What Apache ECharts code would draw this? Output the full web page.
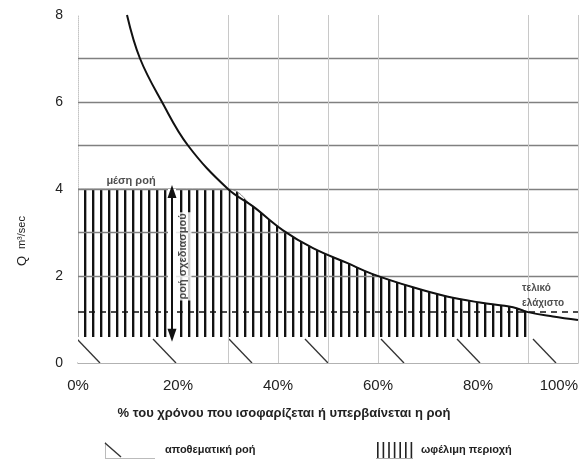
<!DOCTYPE html>
<html><head><meta charset="utf-8">
<script src="https://cdn.jsdelivr.net/npm/echarts@6/dist/echarts.min.js"></script>
<style>html,body{margin:0;padding:0;background:#fff}#c{width:583px;height:463px}</style>
</head><body><div id="c"></div>
<script>
// ---- data ----
const xTickStep = 20;                 // % ticks 0..100
const yTickStep = 2;                  // Q ticks 0..8
const curveX = [9.8, 12.4, 16.8, 22, 30, 35, 41, 47, 53.8, 58.8, 67, 73.8, 80.4, 87, 90, 95, 100];
const curveQ = [8.0, 7.0, 6.0, 5.0, 4.0, 3.6, 3.05, 2.64, 2.3, 2.05, 1.74, 1.53, 1.39, 1.28, 1.17, 1.07, 0.99];
const meanFlow = 4;                   // μέση ροή
const reserveFlow = 0.6;              // αποθεματική ροή
const dashedFlow = 1.17;              // dashed level
const usefulEnd = 90;                 // end of ωφέλιμη περιοχή (%)
const arrowAt = 18.8;                 // x of "ροή σχεδιασμού" arrow (%)
const hGridValues = [2, 3, 4, 5, 6, 7];
const vGridValues = [30, 40, 50, 60, 90, 100];
const seriesNames = ['αποθεματική ροή', 'ωφέλιμη περιοχή'];

// ---- derived ----
const curveData = curveX.map((x, i) => [x, curveQ[i]]);
const usefulTop = [[0, meanFlow]].concat(
  curveData.filter(p => p[0] >= 30 && p[0] <= usefulEnd)
);

// ---- patterns ----
function mk(w, h, draw) { const c = document.createElement('canvas'); c.width = w; c.height = h; const g = c.getContext('2d'); draw(g); return c; }
const stripes = mk(8, 8, g => { g.fillStyle = '#fff'; g.fillRect(0, 0, 8, 8); g.fillStyle = '#111'; g.fillRect(4, 0, 2, 8); g.fillStyle = '#aaa'; g.fillRect(6, 0, 1, 8); });
const diag = mk(76, 463, g => { g.fillStyle = '#fff'; g.fillRect(0, 0, 76, 463); g.strokeStyle = '#333'; g.lineWidth = 1.3; g.beginPath(); g.moveTo(1, 339); g.lineTo(24, 363); g.stroke(); });
const icon1 = mk(57, 18, g => { g.strokeStyle = '#bbb'; g.lineWidth = 1; g.beginPath(); g.moveTo(2.5, 1); g.lineTo(2.5, 17); g.moveTo(2, 17.5); g.lineTo(52, 17.5); g.stroke(); g.strokeStyle = '#333'; g.lineWidth = 1.4; g.beginPath(); g.moveTo(2, 2); g.lineTo(18, 16); g.stroke(); }).toDataURL();
const icon2 = mk(41, 18, g => { g.fillStyle = '#222'; for (let i = 0; i < 7; i++) g.fillRect(2 + i * 5.6, 1, 1.6, 16); g.fillStyle = '#aaa'; g.fillRect(1, 17, 37, 1); }).toDataURL();

const FF = 'Liberation Sans, Arial, sans-serif';
const chart = echarts.init(document.getElementById('c'), null, { renderer: 'canvas' });
chart.setOption({
  animation: false,
  backgroundColor: '#fff',
  grid: { left: 78, right: 5, top: 15, bottom: 100 },
  legend: [
    { left: 98, top: 436, itemWidth: 57, itemHeight: 18, icon: 'image://' + icon1, data: [seriesNames[0]], selectedMode: false,
      textStyle: { fontSize: 11, fontWeight: 'bold', color: '#222', fontFamily: FF } },
    { left: 370, top: 436, itemWidth: 41, itemHeight: 18, icon: 'image://' + icon2, data: [seriesNames[1]], selectedMode: false,
      textStyle: { fontSize: 11, fontWeight: 'bold', color: '#222', fontFamily: FF } }
  ],
  xAxis: { type: 'value', min: 0, max: 100, interval: xTickStep,
    axisLine: { show: true, lineStyle: { color: '#999', width: 1.5 } }, axisTick: { show: false }, splitLine: { show: false },
    axisLabel: { formatter: '{value}%', fontSize: 15, color: '#222', margin: 15, fontFamily: FF, alignMaxLabel: 'right' } },
  yAxis: { type: 'value', min: 0, max: 8, interval: yTickStep,
    axisLine: { show: true, lineStyle: { color: '#c4c4c4', type: 'dotted', width: 1 } }, axisTick: { show: false }, splitLine: { show: false },
    axisLabel: { fontSize: 14, color: '#222', margin: 15, fontFamily: FF } },
  graphic: [
    { type: 'text', x: 22, y: 241, rotation: Math.PI / 2, style: { text: '{q|Q}  {u|m³/sec}', align: 'center', verticalAlign: 'middle', fill: '#222',
      rich: { q: { fontSize: 13, fontFamily: FF, fill: '#222' }, u: { fontSize: 11, fontFamily: FF, fill: '#222' } } } },
    { type: 'text', x: 284, y: 413, style: { text: '% του χρόνου που ισοφαρίζεται ή υπερβαίνεται η ροή', align: 'center', verticalAlign: 'middle',
      fontSize: 13, fontWeight: 'bold', fontFamily: FF, fill: '#222' } }
  ],
  series: [
    { type: 'line', name: 'grid', data: [[0, 0]], showSymbol: false, lineStyle: { width: 0 }, silent: true, z: 1,
      markLine: { silent: true, symbol: 'none', label: { show: false }, animation: false,
        data: hGridValues.map(v => ({ yAxis: v, lineStyle: { color: '#808080', width: 1.3, type: 'solid' } }))
          .concat(vGridValues.map(v => ({ xAxis: v, lineStyle: { color: '#c8c8c8', width: 1, type: 'solid' } }))) } },
    { type: 'line', name: seriesNames[1], data: usefulTop, showSymbol: false, z: 3, smooth: 0.4,
      lineStyle: { color: '#888', width: 1 },
      areaStyle: { color: { image: stripes, repeat: 'repeat' }, opacity: 1 } },
    { type: 'line', name: seriesNames[0], data: [[0, reserveFlow], [100, reserveFlow]], showSymbol: false, z: 4,
      lineStyle: { width: 0 },
      areaStyle: { color: { image: diag, repeat: 'repeat' }, opacity: 1 } },
    { type: 'line', name: 'curve', data: curveData, showSymbol: false, smooth: 0.4, z: 6,
      lineStyle: { color: '#111', width: 2 },
      markLine: { silent: true, label: { show: false }, animation: false,
        data: [
          [{ coord: [0, dashedFlow], symbol: 'none', lineStyle: { color: '#111', width: 1.5, type: [6, 5] } }, { coord: [100, dashedFlow], symbol: 'none' }],
          [{ coord: [arrowAt, meanFlow], symbol: 'none', lineStyle: { color: '#fff', width: 8, type: 'solid' } }, { coord: [arrowAt, reserveFlow], symbol: 'none' }],
          [{ coord: [arrowAt, meanFlow - 0.06], symbol: 'triangle', symbolSize: [9, 13], symbolRotate: 0, lineStyle: { color: '#111', width: 2, type: 'solid' } },
           { coord: [arrowAt, reserveFlow + 0.04], symbol: 'triangle', symbolSize: [9, 13] }]
        ] } },
    { type: 'scatter', name: 'notes', symbolSize: 0, z: 8, silent: true,
      data: [
        { value: [10.6, meanFlow], label: { show: true, position: 'top', distance: 3, formatter: 'μέση ροή', fontSize: 11, fontWeight: 'bold', color: '#222', fontFamily: FF } },
        { value: [21, 2.45], label: { show: true, position: 'inside', rotate: 90, formatter: 'ροή σχεδιασμού', fontSize: 11, fontWeight: 'bold', color: '#222', fontFamily: FF, backgroundColor: '#fff', padding: [3, 1] } },
        { value: [88.8, 1.54], label: { show: true, position: 'right', distance: 0, formatter: 'τελικό\nελάχιστο', lineHeight: 15, fontSize: 10, fontWeight: 'bold', color: '#222', fontFamily: FF } }
      ] }
  ]
});
</script></body></html>
